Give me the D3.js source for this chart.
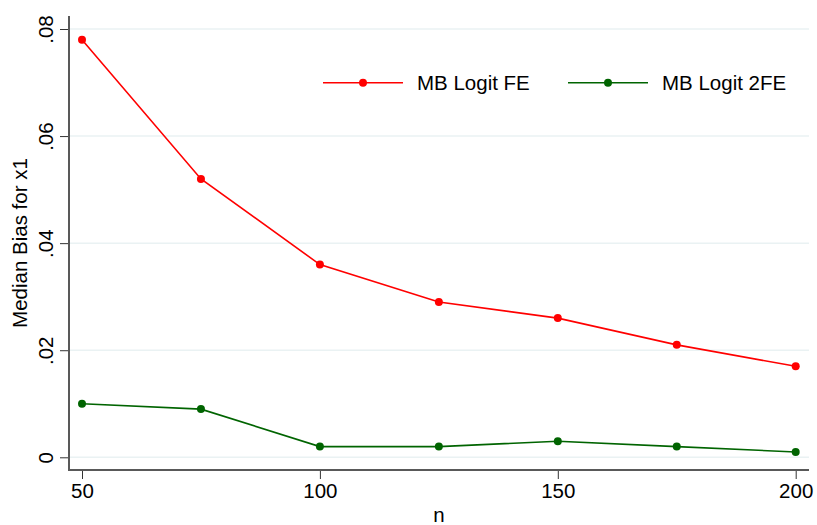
<!DOCTYPE html>
<html>
<head>
<meta charset="utf-8">
<script src="https://cdn.jsdelivr.net/npm/d3@7"></script>
<style>
  body { margin: 0; background: #fff; }
  text { font-family: "Liberation Sans", Arial, sans-serif; fill: #000; }
</style>
</head>
<body>
<div id="chart"></div>
<script>
(function(){
    // data
    var nValues = [50, 75, 100, 125, 150, 175, 200];
    var logitFE = [0.078, 0.052, 0.036, 0.029, 0.026, 0.021, 0.017];
    var logit2FE = [0.010, 0.009, 0.002, 0.002, 0.003, 0.002, 0.001];
    var yTicks = [0, 0.02, 0.04, 0.06, 0.08];
    var yTickLabels = ["0", ".02", ".04", ".06", ".08"];
    var xTicks = [50, 100, 150, 200];
    var seriesNames = ["MB Logit FE", "MB Logit 2FE"];
    var seriesColors = ["#ff0000", "#006400"];

    var W = 817, H = 525;
    var plot = {left: 69, right: 809, top: 16, bottom: 470};

    var x = d3.scaleLinear().domain([50, 200]).range([82, 795.7]);
    var y = d3.scaleLinear().domain([0, 0.08]).range([457.3, 29]);

    var svg = d3.select("#chart").append("svg")
        .attr("width", W)
        .attr("height", H);

    // gridlines
    svg.append("g").selectAll("line")
        .data(yTicks)
        .enter().append("line")
        .attr("x1", plot.left)
        .attr("x2", plot.right)
        .attr("y1", function(d){ return y(d); })
        .attr("y2", function(d){ return y(d); })
        .attr("stroke", "#eaf2f3")
        .attr("stroke-width", 1.5);

    // y axis
    var yAxis = d3.axisLeft(y)
        .tickValues(yTicks)
        .tickFormat(function(d, i){ return yTickLabels[i]; })
        .tickSize(9)
        .tickPadding(8);

    var gy = svg.append("g")
        .attr("transform", "translate(" + plot.left + ",0)")
        .call(yAxis);
    gy.select(".domain").remove();
    gy.selectAll(".tick line").attr("stroke", "#333").attr("stroke-width", 1);
    gy.selectAll(".tick text")
        .attr("font-size", 20.5)
        .attr("font-family", "Liberation Sans, Arial, sans-serif")
        .attr("fill", "#000")
        .attr("text-anchor", "middle")
        .attr("dy", null)
        .attr("x", null)
        .attr("transform", "translate(-24,0) rotate(-90)")
        .attr("dominant-baseline", "central");

    // x axis
    var xAxis = d3.axisBottom(x)
        .tickValues(xTicks)
        .tickFormat(d3.format("d"))
        .tickSize(9)
        .tickPadding(4);

    var gx = svg.append("g")
        .attr("transform", "translate(0," + plot.bottom + ")")
        .call(xAxis);
    gx.select(".domain").remove();
    gx.selectAll(".tick line").attr("stroke", "#333").attr("stroke-width", 1);
    gx.selectAll(".tick text")
        .attr("font-size", 20.5)
        .attr("font-family", "Liberation Sans, Arial, sans-serif")
        .attr("fill", "#000");

    // axis lines
    svg.append("path")
        .attr("d", "M" + plot.left + "," + plot.top + "V" + plot.bottom + "H" + plot.right)
        .attr("fill", "none")
        .attr("stroke", "#595959")
        .attr("stroke-width", 2);

    // axis titles
    svg.append("text")
        .attr("transform", "translate(27," + ((plot.top + plot.bottom) / 2) + ") rotate(-90)")
        .attr("text-anchor", "middle")
        .attr("font-size", 20.5)
        .text("Median Bias for x1");

    svg.append("text")
        .attr("x", (plot.left + plot.right) / 2)
        .attr("y", 522)
        .attr("text-anchor", "middle")
        .attr("font-size", 20.5)
        .text("n");

    // series
    var line = d3.line()
        .x(function(d){ return x(d.n); })
        .y(function(d){ return y(d.v); });

    [logitFE, logit2FE].forEach(function(vals, s){
        var pts = nValues.map(function(n, i){ return {n: n, v: vals[i]}; });
        var g = svg.append("g");
        g.append("path")
            .datum(pts)
            .attr("d", line)
            .attr("fill", "none")
            .attr("stroke", seriesColors[s])
            .attr("stroke-width", 1.6);
        g.selectAll("circle")
            .data(pts)
            .enter().append("circle")
            .attr("cx", function(d){ return x(d.n); })
            .attr("cy", function(d){ return y(d.v); })
            .attr("r", 4)
            .attr("fill", seriesColors[s]);
    });

    // legend
    var legendX = [323, 568];
    var legend = svg.append("g").selectAll("g")
        .data(seriesNames)
        .enter().append("g")
        .attr("transform", function(d, i){ return "translate(" + legendX[i] + ",82.7)"; });
    legend.append("line")
        .attr("x1", 0).attr("x2", 80)
        .attr("stroke", function(d, i){ return seriesColors[i]; })
        .attr("stroke-width", 1.6);
    legend.append("circle")
        .attr("cx", 40)
        .attr("r", 4)
        .attr("fill", function(d, i){ return seriesColors[i]; });
    legend.append("text")
        .attr("x", 94)
        .attr("dy", "0.36em")
        .attr("font-size", 20.5)
        .text(function(d){ return d; });
}());
</script>
</body>
</html>
